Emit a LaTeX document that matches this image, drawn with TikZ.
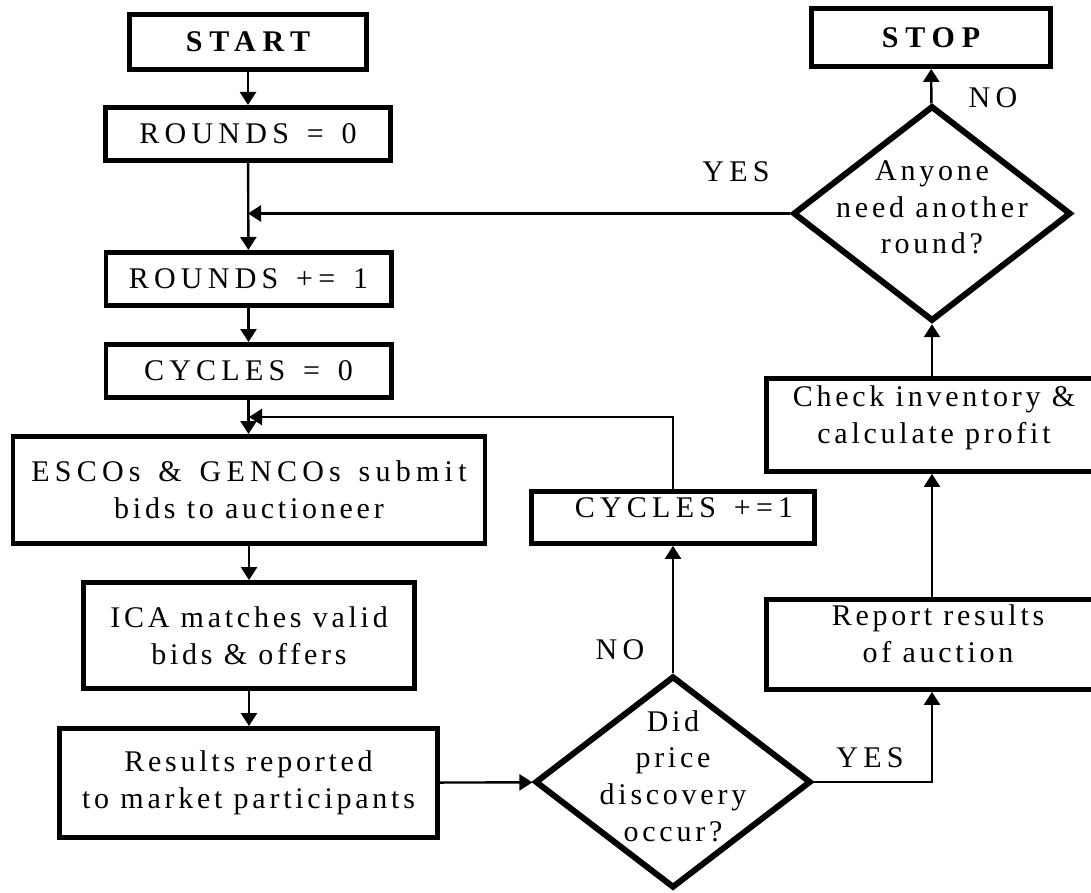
\documentclass[tikz,border=0pt]{standalone}
\usepackage{fontspec}
\setmainfont{Liberation Serif}[LetterSpace=12.5]
\newfontfamily\capsfont{Liberation Serif}[LetterSpace=17.5, WordSpace=1.4]
\newfontfamily\headfont{Liberation Serif}[LetterSpace=23]
\usetikzlibrary{shapes.geometric, arrows.meta, positioning}
\tikzstyle{block} = [rectangle, draw=black, line width=2.4pt, inner sep=0pt, align=center, font=\fontsize{15}{18.4}\selectfont]
\tikzstyle{caps} = [font=\capsfont\fontsize{15}{18.4}\selectfont]
\tikzstyle{head} = [font=\headfont\fontsize{15}{18.4}\selectfont\bfseries]
\tikzstyle{decision} = [diamond, draw=black, line width=3pt, inner sep=0pt, align=center, font=\fontsize{15}{18.4}\selectfont]
\tikzstyle{tag} = [align=center, font=\fontsize{15}{18.4}\selectfont]
\tikzstyle{arrow} = [line width=1.2pt, -{Triangle[length=6.5pt,width=8pt]}]

\begin{document}
\begin{tikzpicture}[x=0.5pt, y=-0.5pt]
        \useasboundingbox (0,0) rectangle (1091,893);
        % left column
        \node (start) [block, head, minimum width=118.6pt, minimum height=27.6pt] at (248,42) {START};
        \node (rounds0) [block, caps, minimum width=142.6pt, minimum height=26.6pt] at (248,134) {ROUNDS = 0};
        \node (rounds1) [block, caps, minimum width=142.6pt, minimum height=26.6pt] at (248.5,279) {ROUNDS += 1};
        \node (cycles0) [block, caps, minimum width=142.6pt, minimum height=26.6pt] at (248.5,371) {CYCLES = 0};
        \node (escos) [block, minimum width=236pt, minimum height=53.6pt] at (249,490) {{\capsfont ESCOs \& GENCOs submit}\\bids to auctioneer};
        \node (ica) [block, minimum width=165.6pt, minimum height=53pt] at (249,635.5) {ICA matches valid\\bids \& offers};
        \node (results) [block, minimum width=189pt, minimum height=54.6pt] at (248.5,783) {Results reported\\to market participants};
        \coordinate (cjoin) at (249,417);

        % middle
        \node (didprice) [decision, minimum width=138pt, minimum height=106pt, label={[tag, yshift=3pt]center:Did\\price\\discovery\\occur?}] at (673,782) {};
        \node (cycinc) [block, minimum width=141.6pt, minimum height=26pt, label={[tag, caps, xshift=5.5pt, yshift=5pt]center:CYCLES +=1}] at (673,517.5) {};

        % right column
        \node (report) [block, minimum width=165.5pt, minimum height=45pt, label={[tag, xshift=3pt, yshift=5.5pt]center:Report results\\of auction}] at (932,644.5) {};
        \node (check) [block, minimum width=165.5pt, minimum height=46.5pt, label={[tag, xshift=1pt, yshift=3.5pt]center:Check inventory \&\\calculate profit}] at (932,425) {};
        \node (anyone) [decision, minimum width=139pt, minimum height=107.7pt, label={[tag, yshift=3pt]center:Anyone\\need another\\round?}] at (932,213.5) {};
        \node (stop) [block, head, minimum width=119.6pt, minimum height=29pt] at (931,37.5) {STOP};

        \node (yestop) [tag, caps] at (736,172) {YES};
        \node (notop) [tag, caps] at (993,98) {NO};
        \node (nobot) [tag, caps] at (620,650) {NO};
        \node (yesbot) [tag, caps] at (870,758) {YES};

        \draw [arrow] (start) -- (rounds0);
        \draw [arrow] (rounds0) -- (rounds1);
        \draw [arrow] (rounds1) -- (cycles0);
        \draw [arrow] (cycles0.south) -- (cycles0.south |- escos.north);
        \draw [arrow] (escos) -- (ica);
        \draw [arrow] (ica) -- (ica |- results.north);
        \draw [arrow] (results) -- (didprice);
        \draw [arrow] (didprice) -- (cycinc);
        \draw [arrow] (cycinc) |- (cjoin);
        \draw [arrow] (didprice) -| (report.south -| anyone.south);
        \draw [arrow] (report.north -| anyone.south) -- (check.south -| anyone.south);
        \draw [arrow] (check.north -| anyone.south) -- (anyone);
        \draw [arrow] (anyone) -- (stop);
        \draw [arrow] (anyone) -- (anyone -| rounds0);
    \end{tikzpicture}
\end{document}
